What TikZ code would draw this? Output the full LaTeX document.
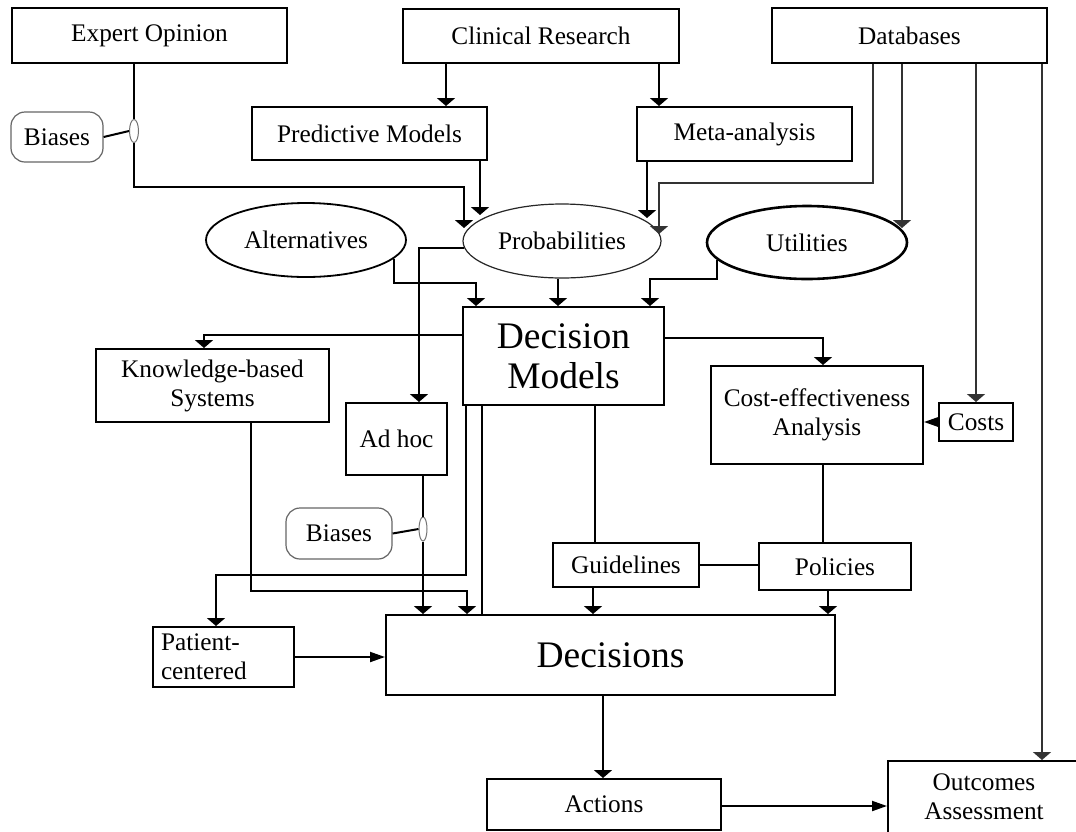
\documentclass[tikz,border=0pt]{standalone}
\usepackage{fontspec}
\setmainfont{Liberation Serif}
\usetikzlibrary{arrows.meta,shapes.geometric}
\newcommand\myfont{\fontsize{25.3}{29}\selectfont}
\newcommand\mybigfont{\fontsize{37.5}{40}\selectfont}
\begin{document}
\begin{tikzpicture}[x=1pt,y=-1pt,
  box/.style={draw,line width=2pt,inner sep=0pt,font=\myfont,align=center},
  oval/.style={draw,ellipse,inner sep=0pt,font=\myfont},
  bias/.style={draw=black!60,line width=1.2pt,rounded corners=14pt,inner sep=0pt,font=\myfont},
  biasmark/.style={draw=black!55,ellipse,line width=1pt,inner sep=0pt},
  link/.style={line width=2pt},
  varr/.style={link,-{Triangle[width=18pt,length=8pt]}},
  harr/.style={link,-{Triangle[width=10pt,length=15pt]}},
  dbline/.style={line width=1.6pt,draw=black!80},
]
\useasboundingbox (0,0) rectangle (1076,831);
\fill[white] (0,0) rectangle (1076,831);
\clip (0,0) rectangle (1076,831);

% nodes
\node[box,minimum width=275pt,minimum height=55pt] (expert) at (149.5,35.5) {Expert Opinion};
\node[box,minimum width=276pt,minimum height=54pt] (clinical) at (541,36) {Clinical Research};
\node[box,minimum width=275pt,minimum height=55pt] (db) at (909.5,35.5) {Databases};
\node[box,minimum width=235pt,minimum height=53pt] (pred) at (369.5,133.5) {Predictive Models};
\node[box,minimum width=215pt,minimum height=54pt] (meta) at (744.5,134) {Meta-analysis};
\node[bias,minimum width=92pt,minimum height=50pt] (bias1) at (57,137) {Biases};
\node[biasmark,minimum width=9pt,minimum height=23pt] (m1) at (134,131) {};
\node[oval,line width=1.8pt,minimum width=200pt,minimum height=74pt] (alt) at (306,240) {Alternatives};
\node[oval,line width=1.2pt,draw=black!85,minimum width=198pt,minimum height=74pt] (prob) at (562,241) {Probabilities};
\node[oval,line width=2.6pt,minimum width=200pt,minimum height=73pt] (util) at (807,242.5) {Utilities};
\node[box,minimum width=201pt,minimum height=98pt,font=\mybigfont] (dm) at (563.5,356) {Decision\\Models};
\node[box,minimum width=233pt,minimum height=73pt] (kbs) at (212.5,385.5) {Knowledge-based\\Systems};
\node[box,minimum width=101pt,minimum height=72pt] (adhoc) at (396.5,439) {Ad hoc};
\node[box,minimum width=212pt,minimum height=98pt] (cea) at (817,415) {Cost-effectiveness\\Analysis};
\node[box,minimum width=74pt,minimum height=38pt] (costs) at (976,422) {Costs};
\node[bias,minimum width=106pt,minimum height=51pt] (bias2) at (339,533.5) {Biases};
\node[biasmark,minimum width=8pt,minimum height=24pt] (m2) at (423,529) {};
\node[box,minimum width=146pt,minimum height=44pt] (guide) at (626,565) {Guidelines};
\node[box,minimum width=152pt,minimum height=47pt] (policies) at (835,566.5) {Policies};
\node[box,minimum width=141pt,minimum height=60pt,text width=125pt,align=left] (patient) at (223.5,657) {Patient-\\centered};
\node[box,minimum width=449pt,minimum height=80pt,font=\mybigfont] (decisions) at (610.5,655) {Decisions};
\node[box,minimum width=234pt,minimum height=51pt] (actions) at (604,804.5) {Actions};
\node[box,minimum width=192pt,minimum height=72pt] (outcomes) at (984,797) {Outcomes\\Assessment};

% connectors
\draw[link] (expert.south -| m1.center) -- (m1.north);
\draw[varr] (m1.south) -- (134,187) -| (464,228);
\draw[link] (bias1.east) -- (m1.west);
\draw[varr] (446,0 |- clinical.south) -- (446,0 |- pred.north);
\draw[varr] (659,0 |- clinical.south) -- (659,0 |- meta.north);
\draw[varr] (480,0 |- pred.south) -- (480,215);
\draw[varr] (647,0 |- meta.south) -- (647,218);
\draw[varr,dbline] (873,0 |- db.south) -- (873,183) -| (659,234);
\draw[varr,dbline] (902,0 |- db.south) -- (902,228);
\draw[varr,dbline] (976,0 |- db.south) -- (costs.north);
\draw[varr,dbline] (1042,0 |- db.south) -- (1042,0 |- outcomes.north);
\draw[varr] (alt.-12) |- (476,283) -- (476,0 |- dm.north);
\draw[varr] (558,0 |- prob.south) -- (558,0 |- dm.north);
\draw[varr] (prob.184) -| (419,0 |- adhoc.north);
\draw[varr] (util.191) |- (650,279) -- (650,0 |- dm.north);
\draw[varr] (dm.west |- 0,335) -| (204,0 |- kbs.north);
\draw[varr] (dm.east |- 0,338) -| (823,0 |- cea.north);
\draw[harr] (costs.west) -- (cea.east |- costs.west);
\draw[link] (823,0 |- cea.south) -- (823,0 |- policies.north);
\draw[link] (595,0 |- dm.south) -- (595,0 |- guide.north);
\draw[link] (guide.east) -- (policies.west |- guide.east);
\draw[varr] (593,0 |- guide.south) -- (593,0 |- decisions.north);
\draw[varr] (828,0 |- policies.south) -- (828,0 |- decisions.north);
\draw[varr] (603,0 |- decisions.south) -- (603,0 |- actions.north);
\draw[harr] (actions.east |- 0,806) -- (outcomes.west |- 0,806);
\draw[harr] (patient.east) -- (decisions.west |- patient.east);
\draw[varr] (466,0 |- dm.south) |- (216,575) -- (216,0 |- patient.north);
\draw[link] (482,0 |- dm.south) -- (482,0 |- decisions.north);
\draw[varr] (251,0 |- kbs.south) |- (467,591) -- (467,0 |- decisions.north);
\draw[link] (m2.north |- adhoc.south) -- (m2.north);
\draw[varr] (m2.south) -- (m2.south |- decisions.north);
\draw[link] (bias2.east) -- (m2.west);
\end{tikzpicture}
\end{document}
